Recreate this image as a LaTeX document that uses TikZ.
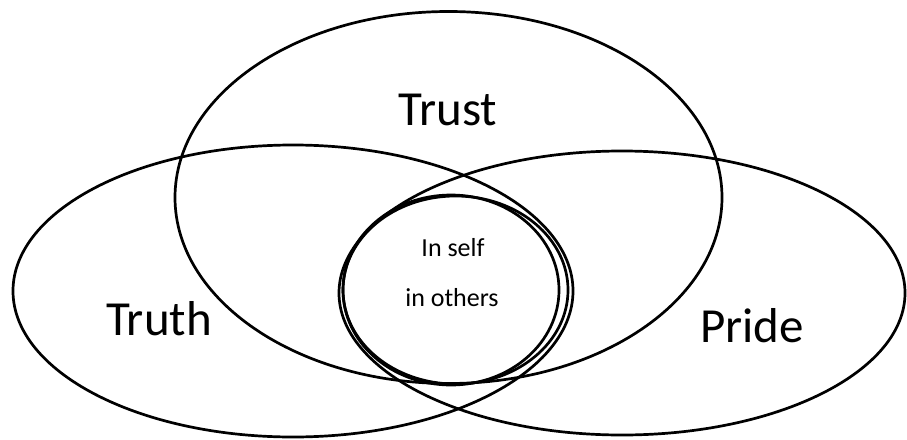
\documentclass[tikz,border=0pt]{standalone}
\usepackage{fontspec}
\setmainfont{Carlito}
\usetikzlibrary{shapes.geometric}
\begin{document}
\begin{tikzpicture}[x=1pt,y=-1pt,
  setshape/.style={draw=black, ellipse, line width=2.7pt, inner sep=0pt, outer sep=0pt},
  biglabel/.style={anchor=base, inner sep=0pt, font=\fontsize{49}{49}\selectfont},
  smalllabel/.style={anchor=base, inner sep=0pt, font=\fontsize{26}{26}\selectfont}]
\useasboundingbox[fill=white] (0,0) rectangle (907,439);
\node[setshape, minimum width=547pt, minimum height=372pt] (trust) at (448.5,197.5) {};
\node[setshape, minimum width=560pt, minimum height=292pt] (truth) at (293,291) {};
\node[setshape, minimum width=566pt, minimum height=284pt] (pride) at (622,293) {};
\node[setshape, minimum width=216pt, minimum height=190pt] (core1) at (451,290) {};
\node[setshape, minimum width=225pt, minimum height=188pt] (core2) at (455.5,290) {};
\node[biglabel] (ltrust) at (448,125) {Trust};
\node[biglabel] (ltruth) at (159,335) {Truth};
\node[biglabel] (lpride) at (752,342) {Pride};
\node[smalllabel] (lself) at (453,256) {In self};
\node[smalllabel] (lothers) at (452,306) {in others};
\end{tikzpicture}
\end{document}
